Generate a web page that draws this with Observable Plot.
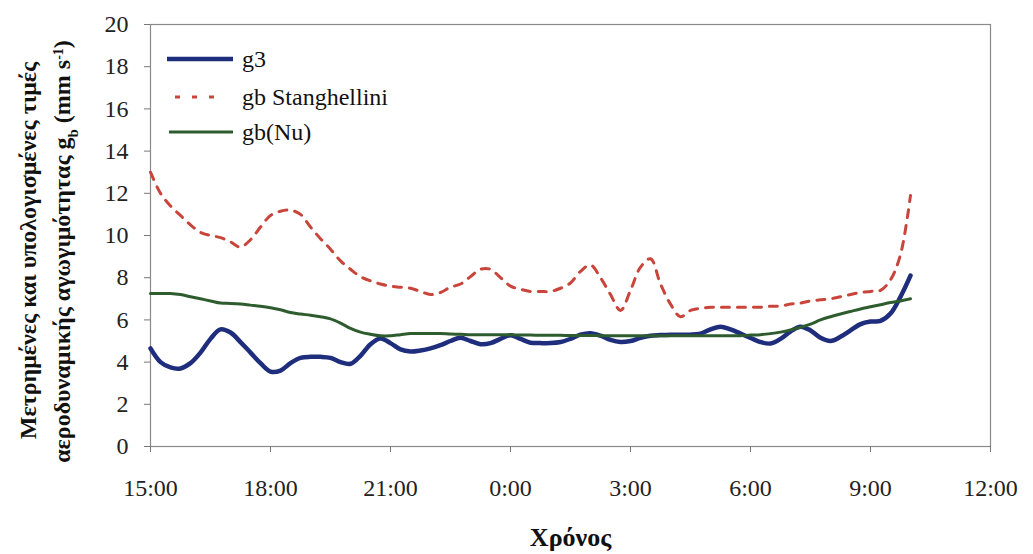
<!DOCTYPE html>
<html>
<head>
<meta charset="utf-8">
<script src="https://cdn.jsdelivr.net/npm/d3@7"></script>
<script src="https://cdn.jsdelivr.net/npm/@observablehq/plot@0.6"></script>
<style>
  html, body { margin: 0; padding: 0; background: #fff; }
  #wrap { position: relative; width: 1033px; height: 554px; font-family: 'Liberation Serif', 'DejaVu Serif', serif; }
  #wrap svg, #wrap svg text { font-family: 'Liberation Serif', 'DejaVu Serif', serif !important; }
  #legend { position: absolute; left: 0; top: 0; pointer-events: none; }
</style>
</head>
<body>
<div id="wrap">
  <div id="chart"></div>
  <svg id="legend" width="400" height="160"></svg>
</div>
<script>
// ---- Data (15-minute samples starting at 15:00) ----
const startLabel = "15:00";
const stepHours = 0.25;

const g3 = [
  4.65, 4.0, 3.75, 3.7, 3.95, 4.45, 5.1, 5.55, 5.4, 4.95,
  4.45, 3.95, 3.55, 3.6, 3.95, 4.2, 4.25, 4.25, 4.2, 4.0,
  3.92, 4.3, 4.85, 5.12, 4.9, 4.6, 4.5, 4.55, 4.65, 4.8,
  5.0, 5.15, 5.0, 4.85, 4.9, 5.1, 5.27, 5.1, 4.92, 4.9,
  4.9, 4.95, 5.1, 5.3, 5.37, 5.25, 5.05, 4.95, 5.0, 5.15,
  5.25, 5.28, 5.3, 5.3, 5.3, 5.35, 5.55, 5.68, 5.55, 5.35,
  5.15, 4.95, 4.88, 5.1, 5.45, 5.68, 5.5, 5.15, 5.0, 5.2,
  5.5, 5.8, 5.92, 5.95, 6.3, 7.1, 8.1
];

const gbStanghellini = [
  13.0, 12.0, 11.4, 10.95, 10.5, 10.15, 10.0, 9.9, 9.7, 9.45,
  9.8, 10.4, 10.95, 11.15, 11.2, 11.0, 10.4, 9.85, 9.35, 8.8,
  8.4, 8.05, 7.85, 7.7, 7.6, 7.55, 7.5, 7.35, 7.2, 7.3,
  7.55, 7.7, 8.05, 8.4, 8.4, 8.0, 7.6, 7.45, 7.35, 7.35,
  7.35, 7.5, 7.75, 8.3, 8.6, 8.0, 7.2, 6.45, 7.4, 8.5,
  8.9, 7.7, 6.75, 6.15, 6.45, 6.55, 6.6, 6.6, 6.6, 6.6,
  6.6, 6.6, 6.65, 6.65, 6.75, 6.8, 6.9, 6.95, 7.0, 7.1,
  7.2, 7.3, 7.35, 7.4, 7.9, 9.1, 11.9
];

const gbNu = [
  7.25, 7.25, 7.25, 7.2, 7.1, 7.0, 6.9, 6.8, 6.78, 6.75,
  6.7, 6.65, 6.58, 6.48, 6.35, 6.28, 6.22, 6.15, 6.05, 5.85,
  5.6, 5.42, 5.32, 5.25, 5.25, 5.3, 5.35, 5.35, 5.35, 5.35,
  5.33, 5.32, 5.3, 5.3, 5.3, 5.3, 5.3, 5.28, 5.28, 5.27,
  5.27, 5.27, 5.26, 5.26, 5.26, 5.25, 5.25, 5.25, 5.25, 5.25,
  5.25, 5.25, 5.25, 5.25, 5.25, 5.25, 5.25, 5.25, 5.25, 5.25,
  5.28, 5.3, 5.35, 5.42, 5.52, 5.65, 5.8, 6.0, 6.15, 6.28,
  6.4, 6.52, 6.62, 6.72, 6.82, 6.9, 7.0
];

const seriesNames = ["g3", "gb Stanghellini", "gb(Nu)"];
const xTickLabels = ["15:00", "18:00", "21:00", "0:00", "3:00", "6:00", "9:00", "12:00"];
const xTickHours = [0, 3, 6, 9, 12, 15, 18, 21];
const yTicks = [0, 2, 4, 6, 8, 10, 12, 14, 16, 18, 20];
const xTitle = "Χρόνος";
const yTitle1 = "Μετρημένες και υπολογισμένες τιμές";
const yTitle2 = "αεροδυναμικής αγωγιμότητας gb (mm s-1)";

const colors = { g3: "#1f2e7c", stang: "#c8453b", nu: "#2e5c2e" };

const toRows = (arr) => arr.map((v, i) => ({ t: i * stepHours, v }));
const rowsG3 = toRows(g3);
const rowsSt = toRows(gbStanghellini);
const rowsNu = toRows(gbNu);

const font = "'Liberation Serif', 'DejaVu Serif', serif";

const chart = Plot.plot({
  width: 1033,
  height: 554,
  marginLeft: 150,
  marginRight: 43,
  marginTop: 24,
  marginBottom: 108,
  style: { fontFamily: font, background: "#fff", color: "#222" },
  x: { domain: [0, 21] },
  y: { domain: [0, 20] },
  marks: [
    Plot.frame({ stroke: "#8a8a8a", strokeWidth: 1.2 }),
    Plot.axisX({
      ticks: xTickHours,
      tickFormat: (d) => xTickLabels[xTickHours.indexOf(d)],
      tickSize: 6,
      tickPadding: 26,
      fontSize: 24,
      label: null,
      stroke: "#777",
      fill: "#222"
    }),
    Plot.axisY({
      ticks: yTicks,
      tickSize: 6,
      tickPadding: 16,
      fontSize: 24,
      label: null,
      stroke: "#777",
      fill: "#222"
    }),
    Plot.line(rowsG3, { x: "t", y: "v", stroke: colors.g3, strokeWidth: 4.5, curve: "catmull-rom" }),
    Plot.line(rowsSt, { x: "t", y: "v", stroke: colors.stang, strokeWidth: 3, strokeDasharray: "8,8", curve: "catmull-rom" }),
    Plot.line(rowsNu, { x: "t", y: "v", stroke: colors.nu, strokeWidth: 3, curve: "catmull-rom" }),
    Plot.text([xTitle], { frameAnchor: "bottom", dy: 91, fontSize: 26, fontWeight: "bold", textAnchor: "middle", lineAnchor: "middle", fill: "#111" }),
    Plot.text([yTitle1], { frameAnchor: "left", dx: -122, dy: 15, rotate: -90, fontSize: 24, fontWeight: "bold", textAnchor: "middle", lineAnchor: "middle", fill: "#111" }),
    Plot.text([yTitle2], { frameAnchor: "left", dx: -88, dy: 16, rotate: -90, fontSize: 24, fontWeight: "bold", textAnchor: "middle", lineAnchor: "middle", fill: "#111" })
  ]
});
document.getElementById("chart").appendChild(chart);

// Rich formatting for the second y-title line (subscript b, superscript -1)
d3.select(chart).selectAll("text").each(function () {
  if (this.textContent === yTitle2) {
    const t = d3.select(this);
    t.text(null);
    t.append("tspan").text("αεροδυναμικής αγωγιμότητας g");
    t.append("tspan").attr("baseline-shift", "sub").attr("font-size", 15).text("b");
    t.append("tspan").text(" (mm s");
    t.append("tspan").attr("baseline-shift", "super").attr("font-size", 14).text("-1");
    t.append("tspan").text(")");
  }
});

// Legend
const legendItems = [
  { name: seriesNames[0], color: colors.g3, width: 4.5, dash: null, x1: 167, x2: 233 },
  { name: seriesNames[1], color: colors.stang, width: 3, dash: "5,12", x1: 175, x2: 218 },
  { name: seriesNames[2], color: colors.nu, width: 3, dash: null, x1: 169, x2: 233 }
];
const leg = d3.select("#legend");
const rowY = [59, 97, 132];
legendItems.forEach((d, i) => {
  leg.append("line")
    .attr("x1", d.x1).attr("x2", d.x2)
    .attr("y1", rowY[i]).attr("y2", rowY[i])
    .attr("stroke", d.color).attr("stroke-width", d.width)
    .attr("stroke-dasharray", d.dash);
  leg.append("text")
    .attr("x", 242).attr("y", rowY[i])
    .attr("dy", "0.32em")
    .attr("font-size", 24)
    .attr("fill", "#111")
    .text(d.name);
});
</script>
</body>
</html>
